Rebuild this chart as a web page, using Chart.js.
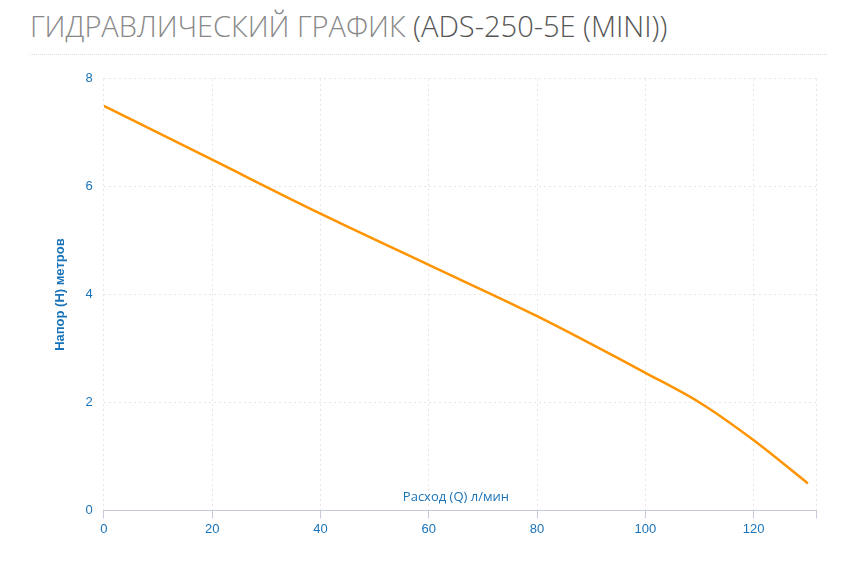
<!DOCTYPE html>
<html lang="ru">
<head>
    <meta charset="UTF-8">
    <title>Гидравлический график</title>
    <script src="https://cdn.jsdelivr.net/npm/chart.js"></script>
    <style>
        body { margin: 0; background: #fff; font-family: "Open Sans", sans-serif; }
        h2 { margin: 0 20px 0 30px; padding: 6px 0 0 0; font-weight: 300; font-size: 29px; color: #888; height: 48px; border-bottom: 1px dotted #ddd; }
        h2 span { color: #555; }
        #wrap { position: absolute; left: 0; top: 60px; width: 847px; height: 480px; }
    </style>
</head>
<body>
    <h2>ГИДРАВЛИЧЕСКИЙ ГРАФИК <span>(ADS-250-5E (MINI))</span></h2>
    <div id="wrap"><canvas id="pumpChart"></canvas></div>

    <script>
        const flow = [0, 20, 40, 60, 80, 100, 110, 120, 130];
        const head = [7.5, 6.5, 5.5, 4.55, 3.6, 2.55, 2.0, 1.3, 0.5];
        const xTitle = 'Расход (Q) л/мин';
        const yTitle = 'Напор (H) метров';

        // x axis title sits just above the axis line
        const xTitlePlugin = {
            id: 'xTitleInside',
            afterDraw(chart) {
                const a = chart.chartArea, ctx = chart.ctx;
                ctx.save();
                ctx.font = '13px "Open Sans"';
                ctx.fillStyle = '#1a73b8';
                ctx.textAlign = 'center';
                ctx.textBaseline = 'bottom';
                ctx.fillText(xTitle, (a.left + a.right) / 2 - 4, a.bottom - 7);
                ctx.restore();
            }
        };

        new Chart(document.getElementById('pumpChart'), {
            type: 'line',
            data: {
                datasets: [{
                    data: flow.map((x, i) => ({ x: x, y: head[i] })),
                    borderColor: '#ff9400',
                    borderWidth: 2.5,
                    pointRadius: 0,
                    cubicInterpolationMode: 'monotone',
                    fill: false
                }]
            },
            options: {
                responsive: true,
                maintainAspectRatio: false,
                animation: false,
                layout: { padding: { left: 47, right: 31, top: 14, bottom: 0 } },
                plugins: { legend: { display: false }, tooltip: { enabled: false } },
                scales: {
                    x: {
                        type: 'linear', min: 0, max: 131.5,
                        ticks: { stepSize: 20, color: '#1a73b8', font: { size: 13 },
                                 callback: v => v % 20 === 0 ? v : '' },
                        grid: { color: '#e6e6e6', drawTicks: true, tickColor: '#c5cbd8' },
                        border: { color: '#c5cbd8', width: 1, dash: [2, 3] }
                    },
                    y: {
                        min: 0, max: 8,
                        ticks: { stepSize: 2, color: '#1a73b8', font: { size: 13 }, padding: 11 },
                        grid: { color: '#e6e6e6', drawTicks: false },
                        border: { display: false, dash: [2, 3] },
                        title: { display: true, text: yTitle, color: '#1a73b8',
                                 font: { size: 13, weight: 'bold' }, padding: 6 }
                    }
                }
            },
            plugins: [xTitlePlugin]
        });
    </script>
</body>
</html>
